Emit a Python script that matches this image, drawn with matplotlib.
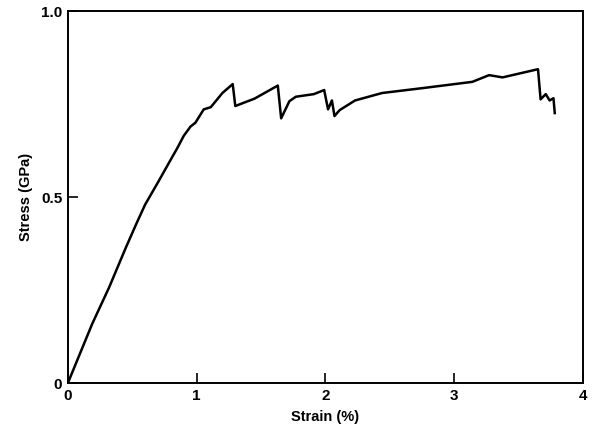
import numpy as np
import matplotlib
matplotlib.use('Agg')
import matplotlib.pyplot as plt

# Strain (%) and stress (GPa)
strain = [0.0, 0.19, 0.32, 0.45, 0.53, 0.60, 0.70, 0.773, 0.85, 0.90, 0.953, 0.99,
          1.055, 1.11, 1.20, 1.28, 1.30, 1.45, 1.63, 1.656, 1.72, 1.77,
          1.91, 1.99, 2.02, 2.05, 2.07, 2.11, 2.23, 2.44, 2.75, 3.14,
          3.27, 3.375, 3.65, 3.67, 3.71, 3.74, 3.77, 3.78]
stress = [0.0, 0.16, 0.257, 0.364, 0.427, 0.48, 0.54, 0.585, 0.632, 0.665, 0.69, 0.70,
          0.736, 0.742, 0.78, 0.804, 0.745, 0.765, 0.80, 0.712, 0.758, 0.77,
          0.777, 0.788, 0.736, 0.76, 0.718, 0.734, 0.76, 0.78, 0.793, 0.81,
          0.828, 0.822, 0.844, 0.763, 0.777, 0.76, 0.766, 0.726]

xticks = [0, 1, 2, 3, 4]
yticks = [0, 0.5, 1.0]
ytick_labels = ['0', '0.5', '1.0']

plt.rcParams['font.family'] = ['Liberation Sans', 'DejaVu Sans']
plt.rcParams['font.weight'] = 'bold'

fig = plt.figure(figsize=(5.95, 4.30), dpi=100)
ax = fig.add_axes([0.114, 0.109, 0.866, 0.865])

ax.plot(strain, stress, color='black', linewidth=1.8, solid_joinstyle='round')

ax.set_xlim(0, 4)
ax.set_ylim(0, 1.0)
ax.set_xticks(xticks)
ax.set_yticks(yticks)
ax.set_yticklabels(ytick_labels)
ax.tick_params(direction='in', length=7, width=1.2, labelsize=11, pad=4)
for s in ax.spines.values():
    s.set_linewidth(1.4)

ax.set_xlabel('Strain (%)', fontsize=10.5, fontweight='bold', labelpad=5)
ax.set_ylabel('Stress (GPa)', fontsize=10.5, fontweight='bold', labelpad=6)

fig.savefig('out.png', dpi=100)
